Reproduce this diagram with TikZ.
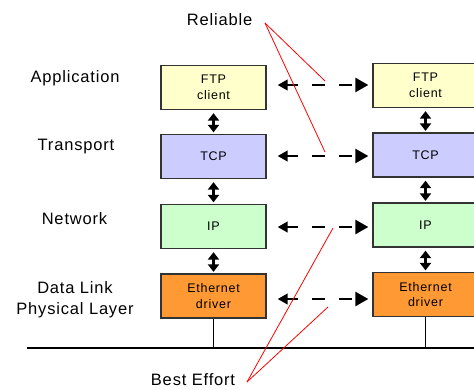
\documentclass[tikz,border=0pt]{standalone}
\usepackage{fontspec}
\setmainfont{Liberation Sans}
\usetikzlibrary{arrows.meta,calc}

\definecolor{ftpfill}{HTML}{FFFFCC}
\definecolor{tcpfill}{HTML}{CCCCFF}
\definecolor{ipfill}{HTML}{CCFFCC}
\definecolor{ethfill}{HTML}{FF9933}
\definecolor{edge}{HTML}{333333}

\begin{document}
\begin{tikzpicture}[x=1pt,y=-1pt,
  layer/.style={draw=edge, line width=1.3pt, minimum width=105pt, minimum height=44pt,
    inner sep=0pt, align=center, font=\fontsize{12.5}{15.5}\selectfont\addfontfeatures{LetterSpace=6}},
  lbl/.style={inner sep=0pt, align=center, font=\fontsize{16.5}{21}\selectfont\addfontfeatures{LetterSpace=5}},
  vdbl/.style={line width=2.4pt, shorten <=3pt, shorten >=1.5pt,
    {Triangle[width=11pt,length=7.5pt]}-{Triangle[width=11pt,length=7.5pt]}},
  hdash/.style={line width=2.4pt, dash pattern=on 13pt off 14pt, dash phase=2pt,
    shorten <=11pt, shorten >=4pt,
    {Triangle[width=10.5pt,length=10pt]}-{Triangle[width=14pt,length=13pt]}},
  note/.style={red, line width=0.8pt}]

\clip (0,0) rectangle (474,389);

% protocol boxes, host on the left
\node[layer, fill=ftpfill] (ftpL) at (213.5,87.5) {FTP\\client};
\node[layer, fill=tcpfill] (tcpL) at (213.5,156.5) {TCP};
\node[layer, fill=ipfill]  (ipL)  at (213.5,226.5) {IP};
\node[layer, fill=ethfill] (ethL) at (213.5,296) {Ethernet\\driver};

% protocol boxes, host on the right
\node[layer, fill=ftpfill] (ftpR) at (425.5,85.5) {FTP\\client};
\node[layer, fill=tcpfill] (tcpR) at (425.5,155) {TCP};
\node[layer, fill=ipfill]  (ipR)  at (425.5,225) {IP};
\node[layer, fill=ethfill] (ethR) at (425.5,294.5) {Ethernet\\driver};

% layer names
\node[lbl] (app)  at (75,78) {Application};
\node[lbl] (tra)  at (76,147) {Transport};
\node[lbl] (net)  at (74.5,219) {Network};
\node[lbl] (dll)  at (75,299.5) {Data Link\\Physical Layer};

% interfaces inside each host
\draw[vdbl] (ftpL.south) -- (tcpL.north);
\draw[vdbl] (tcpL.south) -- (ipL.north);
\draw[vdbl] (ipL.south) -- (ethL.north);
\draw[vdbl] (ftpR.south) -- (tcpR.north);
\draw[vdbl] (tcpR.south) -- (ipR.north);
\draw[vdbl] (ipR.south) -- (ethR.north);

% peer-to-peer protocol exchanges
\draw[hdash] ($(ftpL.east)+(0,-2.5)$) -- ($(ftpL.east -| ftpR.west)+(0,-2.5)$);
\draw[hdash] ($(tcpL.east)+(0,-0.5)$) -- ($(tcpL.east -| tcpR.west)+(0,-0.5)$);
\draw[hdash] ($(ipL.east)+(0,0.5)$) -- ($(ipL.east -| ipR.west)+(0,0.5)$);
\draw[hdash] ($(ethL.east)+(0,3)$) -- ($(ethL.east -| ethR.west)+(0,3)$);

% shared medium
\coordinate (busL) at (27,348);
\coordinate (busR) at (480,348);
\draw[line width=2.6pt] (busL) -- (busR);
\draw[line width=1.2pt] (ethL.south) -- (ethL.south |- busL);
\draw[line width=1.2pt] (ethR.south) -- (ethR.south |- busL);

% service annotations
\node[lbl] (reliable) at (219.5,20) {Reliable};
\node[lbl] (best) at (193,380) {Best Effort};
\coordinate (relpt) at (265,23);
\coordinate (relA) at (325,81);
\coordinate (relB) at (325,152);
\coordinate (bept) at (247,382);
\coordinate (beA) at (333,228);
\coordinate (beB) at (328,307);
\draw[note] (relpt) -- (relA);
\draw[note] (relpt) -- (relB);
\draw[note] (bept) -- (beA);
\draw[note] (bept) -- (beB);
\end{tikzpicture}
\end{document}
